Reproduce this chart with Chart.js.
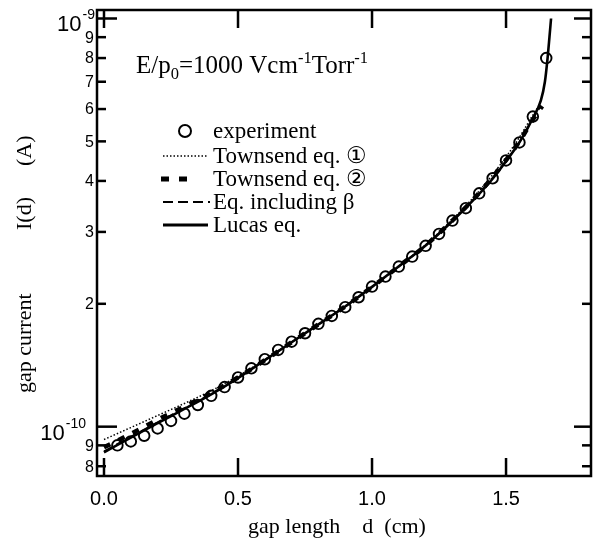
<!DOCTYPE html>
<html>
<head>
<meta charset="utf-8">
<script src="https://cdn.jsdelivr.net/npm/chart.js@4/dist/chart.umd.min.js"></script>
<style>
  html, body { margin: 0; padding: 0; background: #fff; }
  #wrap { position: relative; width: 602px; height: 542px; }
</style>
</head>
<body>
<div id="wrap"><canvas id="c" width="602" height="542"></canvas></div>
<script>
// Gap current vs gap length, E/p0 = 1000 V/cm/Torr
// currents below are in units of 1e-10 A

// measured points
const expD = [0.05, 0.10, 0.15, 0.20, 0.25, 0.30, 0.35, 0.40, 0.45, 0.50, 0.55,
              0.60, 0.65, 0.70, 0.75, 0.80, 0.85, 0.90, 0.95, 1.00, 1.05, 1.10,
              1.15, 1.20, 1.25, 1.30, 1.35, 1.40, 1.45, 1.50, 1.55, 1.60, 1.65];
const expI = [0.90, 0.92, 0.95, 0.99, 1.033, 1.076, 1.13, 1.19, 1.25, 1.32, 1.39,
              1.463, 1.542, 1.615, 1.694, 1.786, 1.868, 1.962, 2.075, 2.204, 2.332, 2.467,
              2.61, 2.773, 2.966, 3.198, 3.43, 3.73, 4.06, 4.49, 4.97, 5.75, 8.0];

// Townsend eq. (1)
const town1D = [0, 0.1, 0.2, 0.3, 0.4, 0.5, 0.6, 0.7, 0.8, 0.9, 1.0, 1.1, 1.2, 1.3, 1.4, 1.5, 1.55, 1.6, 1.625];
const town1I = [0.93, 0.995, 1.065, 1.14, 1.225, 1.33, 1.46, 1.61, 1.78, 1.975, 2.20, 2.47, 2.79, 3.22, 3.78, 4.58, 5.12, 5.80, 6.15];

// Townsend eq. (2)
const town2D = [0, 0.1, 0.2, 0.3, 0.4, 0.5, 0.6, 0.7, 0.8, 0.9, 1.0, 1.1, 1.2, 1.3, 1.4, 1.5, 1.55, 1.6, 1.635];
const town2I = [0.89, 0.96, 1.04, 1.12, 1.21, 1.32, 1.455, 1.61, 1.78, 1.97, 2.20, 2.47, 2.78, 3.20, 3.74, 4.50, 5.00, 5.65, 6.10];

// equation including beta
const betaD = [0, 0.1, 0.2, 0.3, 0.4, 0.5, 0.6, 0.7, 0.8, 0.9, 1.0, 1.1, 1.2, 1.3, 1.4, 1.5, 1.55, 1.6, 1.63];
const betaI = [0.87, 0.945, 1.025, 1.11, 1.205, 1.32, 1.455, 1.61, 1.78, 1.97, 2.20, 2.47, 2.78, 3.20, 3.73, 4.48, 4.98, 5.68, 6.10];

// Lucas equation
const lucasD = [0, 0.1, 0.2, 0.3, 0.4, 0.5, 0.6, 0.7, 0.8, 0.9, 1.0, 1.1, 1.2, 1.3, 1.4, 1.45, 1.5, 1.55, 1.6, 1.63, 1.645, 1.655, 1.662, 1.668];
const lucasI = [0.865, 0.94, 1.02, 1.105, 1.20, 1.315, 1.455, 1.61, 1.78, 1.97, 2.20, 2.47, 2.78, 3.19, 3.72, 4.05, 4.47, 4.97, 5.70, 6.30, 7.0, 8.0, 9.0, 10.0];

// axis ticks
const xTickValues = [0, 0.5, 1.0, 1.5];
const xTickLabels = ['0.0', '0.5', '1.0', '1.5'];
const yDecadeValues = [1e-9, 1e-10];
const yDecadeExps = ['-9', '-10'];
const yMinorValues = [9e-10, 8e-10, 7e-10, 6e-10, 5e-10, 4e-10, 3e-10, 2e-10, 9e-11, 8e-11];
const yMinorLabels = ['9', '8', '7', '6', '5', '4', '3', '2', '9', '8'];

// legend entries
const legendLabels = ['experiment', 'Townsend eq. \u2460', 'Townsend eq. \u2461', 'Eq. including \u03b2', 'Lucas eq.'];

const UNIT = 1e-10;
const pts = (ds, is) => ds.map((d, i) => ({ x: d, y: is[i] * UNIT }));

const SERIF = '"Liberation Serif", "Times New Roman", serif';
const SANS = '"Liberation Sans", Arial, sans-serif';

function seg(ctx, x1, y1, x2, y2) {
  ctx.beginPath(); ctx.moveTo(x1, y1); ctx.lineTo(x2, y2); ctx.stroke();
}

// draws text with sub/superscript pieces: parts = [[text, 'n'|'sup'|'sub'], ...]
function richText(ctx, parts, x, y, size, family) {
  let cx = x;
  parts.forEach(([t, kind]) => {
    const s = kind === 'n' ? size : size * 0.66;
    const dy = kind === 'sup' ? -size * 0.42 : kind === 'sub' ? size * 0.22 : 0;
    ctx.font = s + 'px ' + family;
    ctx.fillText(t, cx, y + dy);
    cx += ctx.measureText(t).width;
  });
  return cx - x;
}

const framePlugin = {
  id: 'frameTicks',
  afterDraw(chart) {
    const { ctx, chartArea: a, scales: { x, y } } = chart;
    ctx.save();
    ctx.strokeStyle = '#000';
    ctx.fillStyle = '#000';
    ctx.lineWidth = 2.5;
    ctx.lineCap = 'butt';
    ctx.strokeRect(a.left, a.top, a.right - a.left, a.bottom - a.top);

    // x ticks, inward on bottom and top
    ctx.textAlign = 'center';
    ctx.textBaseline = 'middle';
    xTickValues.forEach((v, i) => {
      const px = x.getPixelForValue(v);
      seg(ctx, px, a.bottom, px, a.bottom - 18);
      seg(ctx, px, a.top, px, a.top + 18);
      ctx.font = '20px ' + SANS;
      ctx.fillText(xTickLabels[i], px, 499);
    });

    // y decade ticks and labels
    yDecadeValues.forEach((v, i) => {
      const py = y.getPixelForValue(v);
      seg(ctx, a.left, py, a.left + 20, py);
      seg(ctx, a.right, py, a.right - 17, py);
      ctx.textAlign = 'left';
      ctx.textBaseline = 'alphabetic';
      ctx.font = '22px ' + SANS;
      const w10 = ctx.measureText('10').width;
      ctx.font = '14px ' + SANS;
      const we = ctx.measureText(yDecadeExps[i]).width;
      const right = i === 0 ? 95 : 86;
      const x0 = right - w10 - we - 1;
      ctx.font = '22px ' + SANS;
      ctx.fillText('10', x0, py + 13);
      ctx.font = '14px ' + SANS;
      ctx.fillText(yDecadeExps[i], x0 + w10 + 1, py + 1);
    });

    // y minor ticks and labels
    yMinorValues.forEach((v, i) => {
      const py = y.getPixelForValue(v);
      seg(ctx, a.left, py, a.left + 9, py);
      seg(ctx, a.right, py, a.right - 9, py);
      ctx.textAlign = 'right';
      ctx.textBaseline = 'middle';
      ctx.font = '16px ' + SANS;
      ctx.fillText(yMinorLabels[i], 94, py + 1);
    });

    // axis titles
    ctx.textAlign = 'center';
    ctx.textBaseline = 'alphabetic';
    ctx.font = '22px ' + SERIF;
    ctx.fillText('gap length\u2003d\u2002(cm)', 337, 533);
    ctx.save();
    ctx.translate(31, 393);
    ctx.rotate(-Math.PI / 2);
    ctx.textAlign = 'left';
    ctx.fillText('gap current', 0, 0);
    ctx.fillText('I(d)', 163, 0);
    ctx.fillText('(A)', 227, 0);
    ctx.restore();

    // condition note
    ctx.textAlign = 'left';
    richText(ctx, [['E/p', 'n'], ['0', 'sub'], ['=1000 Vcm', 'n'], ['-1', 'sup'], ['Torr', 'n'], ['-1', 'sup']],
             136, 73, 25, SERIF);

    // legend
    const lx0 = 163, lx1 = 208, tx = 213;
    const rows = [131, 156, 179, 202, 225];
    ctx.font = '23px ' + SERIF;
    ctx.textBaseline = 'middle';
    legendLabels.forEach((t, i) => ctx.fillText(t, tx, rows[i] + 1));
    // experiment marker
    ctx.lineWidth = 2;
    ctx.beginPath(); ctx.arc(185, rows[0], 6, 0, Math.PI * 2); ctx.stroke();
    // Townsend 1 : fine dots
    ctx.lineWidth = 1.5; ctx.setLineDash([1.5, 2]);
    seg(ctx, lx0, rows[1], lx1, rows[1]);
    // Townsend 2 : heavy dots
    ctx.lineWidth = 5; ctx.setLineDash([8, 10]);
    seg(ctx, 161, rows[2], 188, rows[2]);
    // beta : dashes
    ctx.lineWidth = 1.8; ctx.setLineDash([10, 5]);
    seg(ctx, lx0, rows[3], lx1 + 2, rows[3]);
    // Lucas : solid
    ctx.lineWidth = 3; ctx.setLineDash([]);
    seg(ctx, lx0, rows[4], lx1, rows[4]);
    ctx.restore();
  }
};

const lineBase = { showLine: true, pointRadius: 0, fill: false, borderColor: '#000', cubicInterpolationMode: 'monotone' };

new Chart(document.getElementById('c'), {
  type: 'scatter',
  data: {
    datasets: [
      Object.assign({ label: 'Townsend eq. 1', data: pts(town1D, town1I), borderWidth: 1.5, borderDash: [1.5, 2] }, lineBase),
      Object.assign({ label: 'Townsend eq. 2', data: pts(town2D, town2I), borderWidth: 4.5, borderDash: [7, 9] }, lineBase),
      Object.assign({ label: 'Eq. including beta', data: pts(betaD, betaI), borderWidth: 1.8, borderDash: [9, 5] }, lineBase),
      Object.assign({ label: 'Lucas eq.', data: pts(lucasD, lucasI), borderWidth: 2.6 }, lineBase),
      {
        label: 'experiment', data: pts(expD, expI), showLine: false,
        pointStyle: 'circle', pointRadius: 5.3, pointBorderWidth: 1.9,
        pointBorderColor: '#000', pointBackgroundColor: 'rgba(0,0,0,0)'
      }
    ]
  },
  options: {
    responsive: false,
    devicePixelRatio: 1,
    animation: false,
    layout: { padding: { left: 97, right: 11, top: 10, bottom: 66 } },
    plugins: { legend: { display: false }, tooltip: { enabled: false } },
    scales: {
      x: { type: 'linear', display: false, min: -0.0261, max: 1.817 },
      y: { type: 'logarithmic', display: false, min: 7.571e-11, max: 1.0491e-9 }
    }
  },
  plugins: [framePlugin]
});
</script>
</body>
</html>
